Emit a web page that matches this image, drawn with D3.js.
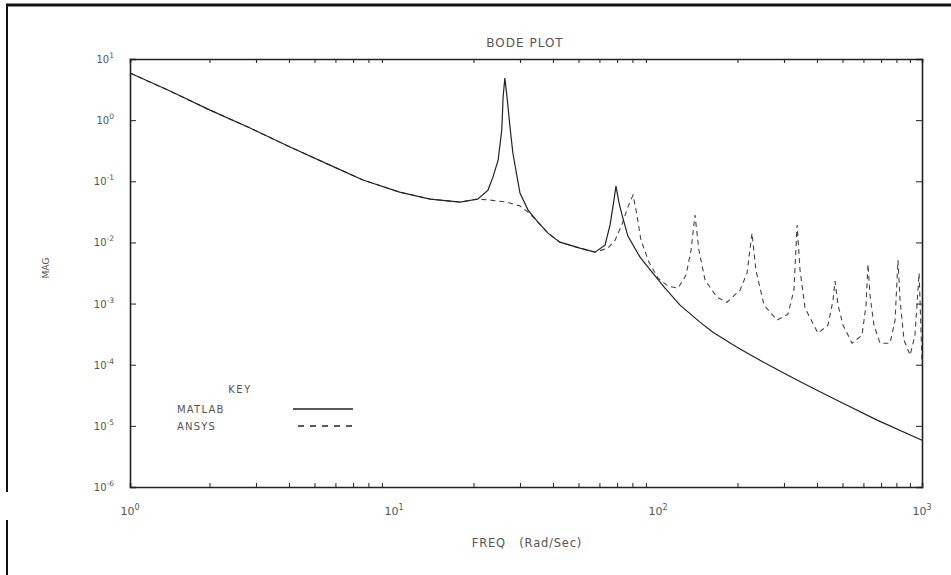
<!DOCTYPE html>
<html><head><meta charset="utf-8">
<script src="https://cdn.jsdelivr.net/npm/d3@7"></script>
<style>
html,body{margin:0;padding:0;background:#fff;}
svg text{font-family:"DejaVu Sans",sans-serif;fill:#555;}
</style></head>
<body>
<svg id="chart" width="951" height="575"></svg>
<script>
// ---- data ----
const xTickValues = [1, 10, 100, 1000];
const xTickExponents = ["0", "1", "2", "3"];
const yTickValues = [10, 1, 0.1, 0.01, 0.001, 1e-4, 1e-5, 1e-6];
const yTickExponents = ["1", "0", "-1", "-2", "-3", "-4", "-5", "-6"];

const matlabFreq = [1.00, 1.418, 2.01, 2.85, 4.04, 5.72, 7.63, 10.5, 13.7, 17.8, 20.8,
  22.7, 23.7, 24.8, 25.6, 25.9, 26.3, 26.8, 27.5, 28.2, 30.0, 32.2, 35.1, 38.3, 42.5,
  50.6, 57.7, 63.0, 65.8, 68.1, 69.3, 71.1, 73.1, 76.9, 85.5, 94.9, 106.3, 121.2,
  144.2, 161.5, 199.2, 243.4, 310.5, 386.4, 520, 676, 1000];
const matlabMag = [5.90, 2.99, 1.46, 0.743, 0.363, 0.184, 0.105, 0.0665, 0.0512, 0.0457, 0.0512,
  0.0718, 0.117, 0.222, 0.689, 2.39, 4.89, 2.39, 0.771, 0.290, 0.0641, 0.0338, 0.0215, 0.0142, 0.0101,
  0.00807, 0.00693, 0.00903, 0.0192, 0.0492, 0.0834, 0.0457, 0.0280, 0.0127, 0.00574, 0.00327, 0.00179, 0.000942,
  0.000497, 0.000341, 0.000193, 0.000118, 0.0000673, 0.0000412, 0.0000217, 0.0000124, 0.0000058];

const ansysFreq = [1.00, 1.418, 2.01, 2.85, 4.04, 5.72, 7.63, 10.5, 13.7, 17.8, 20.8,
  23.1, 26.8, 30.0, 32.2, 35.1, 38.3, 42.5, 50.6, 57.7, 64.7, 68.8, 73.1, 76.9, 80.4,
  82.6, 86.2, 92.4, 100, 109.1, 119.1, 127.7, 133.4, 138.1, 142.9, 150.7, 167.2, 182.5,
  204.5, 217.4, 227.0, 234.9, 252.2, 282.5, 310.5, 327.3, 336.4, 345.2, 360.6, 403.6,
  440.6, 460.3, 468.3, 480.8, 502.3, 543.3, 592.6, 613.8, 624.3, 635.3, 657.7, 693.4,
  756.8, 790.7, 810.8, 825.9, 855.0, 901.6, 940.5, 975.0, 991.4, 1000];
const ansysMag = [5.90, 2.99, 1.46, 0.743, 0.363, 0.184, 0.105, 0.0665, 0.0512, 0.0457, 0.0512,
  0.0492, 0.0457, 0.0393, 0.0313, 0.0215, 0.0142, 0.0101, 0.00807, 0.00693, 0.00807, 0.0109, 0.0199, 0.0378, 0.0594,
  0.0338, 0.0109, 0.00476, 0.00261, 0.00193, 0.00179, 0.00292, 0.00748, 0.0280, 0.00748, 0.00242, 0.00127, 0.00105,
  0.00166, 0.00315, 0.0142, 0.00352, 0.000942, 0.000535, 0.000671, 0.00166, 0.0192, 0.00352, 0.000841, 0.000328,
  0.000443, 0.00114, 0.00233, 0.000942, 0.000443, 0.000225, 0.000304, 0.000942, 0.00442, 0.00137, 0.000443, 0.000225,
  0.000225, 0.000535, 0.00513, 0.00114, 0.000252, 0.000143, 0.000304, 0.00315, 0.000367, 0.0000982];

const seriesNames = ["MATLAB", "ANSYS"];

// ---- layout ----
const svg = d3.select("#chart");
const plotLeft = 130, plotRight = 922, plotTop = 59, plotBottom = 487;
const x = d3.scaleLog().domain([1, 1000]).range([plotLeft, plotRight]);
const y = d3.scaleLog().domain([1e-6, 10]).range([plotBottom, plotTop]);
const ink = "#222";

// outer frame (scanned page border)
svg.append("line").attr("x1", 6).attr("x2", 951).attr("y1", 5).attr("y2", 5)
  .attr("stroke", "#111").attr("stroke-width", 3);
svg.append("line").attr("x1", 7).attr("x2", 7).attr("y1", 5).attr("y2", 492)
  .attr("stroke", "#111").attr("stroke-width", 2);
svg.append("line").attr("x1", 7).attr("x2", 7).attr("y1", 520).attr("y2", 575)
  .attr("stroke", "#111").attr("stroke-width", 2);

// axes
const g = svg.append("g");
const minorX = [];
for (let d = 1; d < 1000; d *= 10) for (let k = 2; k <= 9; k++) minorX.push(d * k);

const axB = d3.axisBottom(x).tickValues(minorX).tickSize(-4).tickFormat("");
const axT = d3.axisTop(x).tickValues(minorX).tickSize(-4).tickFormat("");
g.append("g").attr("transform", `translate(0,${plotBottom})`).call(axB);
g.append("g").attr("transform", `translate(0,${plotTop})`).call(axT);
const axL = d3.axisLeft(y).tickValues(yTickValues).tickSize(-6).tickFormat("");
const axR = d3.axisRight(y).tickValues(yTickValues).tickSize(-6).tickFormat("");
g.append("g").attr("transform", `translate(${plotLeft},0)`).call(axL);
g.append("g").attr("transform", `translate(${plotRight},0)`).call(axR);
g.selectAll(".domain").attr("stroke", ink).attr("stroke-width", 1.6);
g.selectAll(".tick line").attr("stroke", ink).attr("stroke-width", 1);

// tick labels
const xl = svg.append("g");
xTickValues.forEach((v, i) => {
  const t = xl.append("text").attr("x", x(v)).attr("y", 515).attr("text-anchor", "middle")
    .attr("font-size", 11);
  t.append("tspan").text("10");
  t.append("tspan").attr("dy", -5).attr("font-size", 8).text(xTickExponents[i]);
});
yTickValues.forEach((v, i) => {
  const t = xl.append("text").attr("x", 114).attr("y", y(v) + 4).attr("text-anchor", "end")
    .attr("font-size", 10);
  t.append("tspan").text("10");
  t.append("tspan").attr("dy", -5).attr("font-size", 7.5).text(yTickExponents[i]);
});

// titles
svg.append("text").attr("x", 525).attr("y", 47).attr("text-anchor", "middle")
  .attr("font-size", 12).attr("letter-spacing", 1).text("BODE PLOT");
svg.append("text").attr("x", 527).attr("y", 547).attr("text-anchor", "middle")
  .attr("font-size", 11.5).attr("letter-spacing", 0.8).style("white-space", "pre")
  .text("FREQ   (Rad/Sec)");
svg.append("text").attr("transform", "translate(49,268) rotate(-90)")
  .attr("text-anchor", "middle").attr("font-size", 9).text("MAG");

// curves
const line = d3.line().x(d => x(d[0])).y(d => y(d[1])).curve(d3.curveLinear);
const matlabData = d3.zip(matlabFreq, matlabMag);
const ansysData = d3.zip(ansysFreq, ansysMag);

svg.append("path").datum(ansysData).attr("d", line).attr("fill", "none")
  .attr("stroke", "#444").attr("stroke-width", 1.1).attr("stroke-dasharray", "5,4");
svg.append("path").datum(matlabData).attr("d", line).attr("fill", "none")
  .attr("stroke", ink).attr("stroke-width", 1.2);

// legend
const lg = svg.append("g");
lg.append("text").attr("x", 240).attr("y", 393).attr("text-anchor", "middle")
  .attr("font-size", 10).attr("letter-spacing", 1.5).text("KEY");
lg.append("text").attr("x", 177).attr("y", 413).attr("font-size", 10)
  .attr("letter-spacing", 1.2).text(seriesNames[0]);
lg.append("text").attr("x", 177).attr("y", 430).attr("font-size", 10)
  .attr("letter-spacing", 1.2).text(seriesNames[1]);
lg.append("line").attr("x1", 293).attr("x2", 353).attr("y1", 409).attr("y2", 409)
  .attr("stroke", ink).attr("stroke-width", 1.3);
lg.append("line").attr("x1", 298).attr("x2", 352).attr("y1", 426).attr("y2", 426)
  .attr("stroke", ink).attr("stroke-width", 1.3).attr("stroke-dasharray", "6,6");
</script>
</body></html>
